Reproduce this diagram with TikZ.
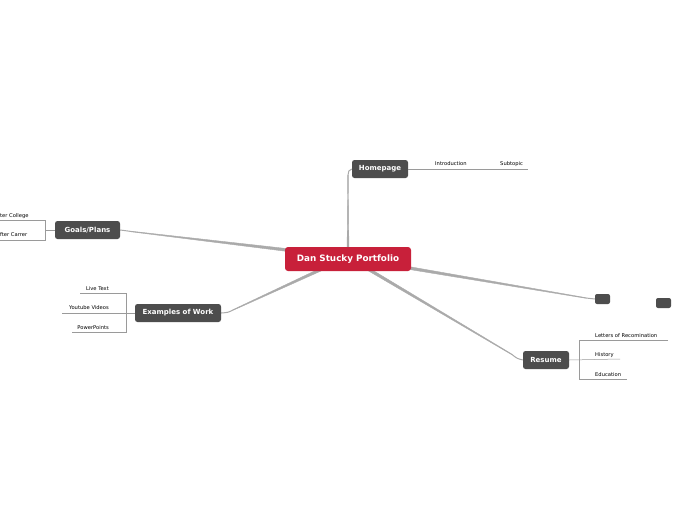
\documentclass[tikz,border=0pt]{standalone}
\usepackage{fontspec}
\setmainfont{DejaVu Sans}
\usetikzlibrary{calc,backgrounds}
\definecolor{boxgray}{HTML}{4D4D4D}
\definecolor{mainred}{HTML}{C8203A}
\definecolor{linegray}{HTML}{AAAAAA}
\definecolor{subline}{HTML}{9A9A9A}
\tikzset{
  topic/.style={fill=boxgray, text=white, font=\fontsize{7}{8}\selectfont\bfseries, rounded corners=2.5pt, inner sep=0pt, minimum height=18pt},
  central/.style={fill=mainred, text=white, font=\fontsize{8.8}{10}\selectfont\bfseries, rounded corners=3pt, inner sep=0pt, minimum height=24pt},
  blank/.style={fill=boxgray, rounded corners=2pt, inner sep=0pt, minimum width=15pt, minimum height=10pt},
  subw/.style={font=\fontsize{5.2}{6}\selectfont, inner sep=0pt, anchor=base west},
  sube/.style={font=\fontsize{5.2}{6}\selectfont, inner sep=0pt, anchor=base east},
  conn/.style={draw=linegray, line width=1pt},
  subl/.style={draw=subline, line width=0.5pt},
}
\newcommand\taperline[4]{%
  \filldraw[linegray, line width=0.4pt, line join=round] ($(#1)!#3!90:(#2)$) -- ($(#2)!#4!-90:(#1)$) -- ($(#2)!#4!90:(#1)$) -- ($(#1)!#3!-90:(#2)$) -- cycle;}
\begin{document}
\begin{tikzpicture}[x=1pt,y=-1pt]
\useasboundingbox (0,0) rectangle (697,520);

\node[central, minimum width=126pt] (c) at (348,259) {Dan Stucky Portfolio};
\node[topic, minimum width=56pt] (home) at (380,169) {Homepage};
\node[topic, minimum width=65pt] (goals) at (87.5,230) {Goals/Plans};
\node[topic, minimum width=86pt] (ex) at (178,313) {Examples of Work};
\node[topic, minimum width=46pt] (res) at (546,360) {Resume};
\node[blank] (e1) at (602.5,299) {};
\node[blank] (e2) at (663.5,303) {};

\begin{scope}[on background layer]
\fill[white] (0,0) rectangle (697,520);
% main connectors
\coordinate (hA) at ($(c.north)+(0,2)$);
\coordinate (hB) at (348,175);
\taperline{hA}{hB}{0.9pt}{0.3pt}
\draw[conn] (hB) to[out=90,in=180] (home.west);

\coordinate (gA) at (287,250);
\coordinate (gB) at (132,231.6);
\taperline{gA}{gB}{1.4pt}{0.3pt}
\draw[conn] (gB) .. controls (125,230.6) .. (goals.east);

\coordinate (xA) at (322,269);
\coordinate (xB) at (233,310);
\taperline{xA}{xB}{1.4pt}{0.3pt}
\draw[conn] (xB) .. controls (228,312.5) .. (ex.east);

\coordinate (rA) at (368,269);
\coordinate (rB) at (512,354.5);
\taperline{rA}{rB}{1.4pt}{0.3pt}
\draw[conn] (rB) .. controls (517,358.5) .. (res.west);

\coordinate (bA) at (409,268);
\coordinate (bB) at (586,298);
\taperline{bA}{bB}{1.4pt}{0.3pt}
\draw[conn] (bB) .. controls (590,299) .. (e1.west);
\end{scope}

% Homepage subtopics
\node[subw] (intro) at (435,165) {Introduction};
\node[subw] (subt) at (500,165) {Subtopic};
\coordinate (hend) at (528,169);
\draw[subl] (home.east) -- (hend);

% Goals subtopics
\node[subw] (gc) at (0,217) {ter College};
\node[subw] (gr) at (0,236) {fter Carrer};
\coordinate (gb) at (45,230);
\coordinate (g1a) at (0,220);
\coordinate (g1b) at (45,220);
\coordinate (g2a) at (0,240);
\coordinate (g2b) at (45,240);
\draw[subl] (goals.west) -- (gb);
\draw[subl] (g1a) -- (g1b) -- (g2b) -- (g2a);

% Examples subtopics
\node[sube] (lt) at (109,290) {Live Text};
\node[sube] (yt) at (109,309) {Youtube Videos};
\node[sube] (pp) at (109,329) {PowerPoints};
\coordinate (eb) at (126,313);
\coordinate (e1a) at (80,293);
\coordinate (e1b) at (126,293);
\coordinate (e2a) at (62,313);
\coordinate (e3a) at (72,332);
\coordinate (e3b) at (126,332);
\draw[subl] (ex.west) -- (e2a);
\draw[subl] (e1a) -- (e1b) -- (e3b) -- (e3a);

% Resume subtopics
\node[subw] (lr) at (595,337) {Letters of Recomination};
\node[subw] (hi) at (595,356) {History};
\node[subw] (ed) at (595,376) {Education};
\coordinate (r1a) at (579,340);
\coordinate (r1b) at (668,340);
\coordinate (r2b) at (620,359);
\coordinate (r3a) at (579,379);
\coordinate (r3b) at (627,379);
\draw[subl] (r1b) -- (r1a) -- (r3a) -- (r3b);
\draw[subl] (res.east) -- (r2b);
\end{tikzpicture}
\end{document}
